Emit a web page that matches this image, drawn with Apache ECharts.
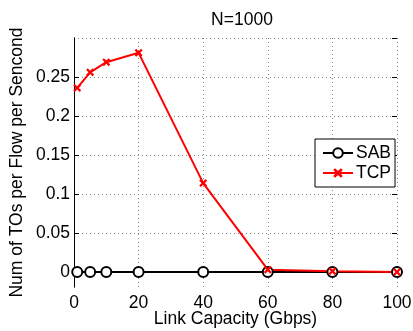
<!DOCTYPE html>
<html><head><meta charset="utf-8">
<script src="https://cdn.jsdelivr.net/npm/echarts@6/dist/echarts.min.js"></script>
<style>html,body{margin:0;padding:0;background:#fff}#c{width:413px;height:331px}</style>
</head><body><div id="c"></div>
<script>
const capacities = [1, 5, 10, 20, 40, 60, 80, 100];
const sabValues = [0, 0, 0, 0, 0, 0, 0, 0];
const tcpValues = [0.236, 0.256, 0.269, 0.281, 0.114, 0.003, 0.001, 0];
const yTickMax = 0.3;
const yTickStep = 0.05;
const xTickStep = 20;

const FONT = 'Liberation Sans';
const FS = 17.5;
const xMark = 'path://M0,2 L2,0 L5,3 L8,0 L10,2 L7,5 L10,8 L8,10 L5,7 L2,10 L0,8 L3,5 Z';
const chart = echarts.init(document.getElementById('c'));
const pairs = (ys) => capacities.map((x, i) => [x, ys[i]]);
const txt = {fontFamily: FONT, fontSize: FS, color: '#000'};
const blackLine = {show: true, lineStyle: {color: '#000', width: 1}};
const inTick = {show: true, inside: true, length: 5, lineStyle: {color: '#000'}};
const dotted = {show: true, lineStyle: {color: '#888', type: [1, 3], width: 1}};
// grid 0: full plot box (y from about -0.019 to 0.3); grid 1: tick grid (0..0.3)
chart.setOption({
  animation: false,
  textStyle: {fontFamily: FONT},
  title: {text: 'N=1000', left: 237, top: 6, textAlign: 'center',
    textStyle: Object.assign({fontWeight: 'normal'}, txt)},
  grid: [
    {left: 74, right: 16, top: 38, bottom: 44, containLabel: false, outerBoundsMode: 'none'},
    {left: 74, right: 16, top: 38, bottom: 59, containLabel: false, outerBoundsMode: 'none'}
  ],
  legend: {
    left: 315, top: 139, orient: 'vertical', itemWidth: 30, itemHeight: 12, itemGap: 2,
    padding: [5, 4, 5, 7],
    backgroundColor: '#fff', borderColor: '#000', borderWidth: 1, borderRadius: 0,
    textStyle: Object.assign({padding: [0, 0, 0, -2]}, txt),
    data: ['SAB', 'TCP']
  },
  xAxis: [{
    gridIndex: 0, type: 'value', min: 0, max: 100, interval: xTickStep,
    name: 'Link Capacity (Gbps)', nameLocation: 'middle', nameGap: 23, nameMoveOverlap: false,
    nameTextStyle: txt,
    axisLine: blackLine, axisTick: inTick,
    axisLabel: Object.assign({margin: 7}, txt),
    splitLine: dotted
  }, {
    gridIndex: 0, type: 'value', min: 0, max: 100, interval: xTickStep, position: 'top',
    axisLine: blackLine, axisTick: inTick,
    axisLabel: {show: false}, splitLine: {show: false}
  }, {
    gridIndex: 1, type: 'value', min: 0, max: 100, show: false
  }],
  yAxis: [{
    gridIndex: 0, type: 'value', min: -0.01923, max: yTickMax,
    name: 'Num of TOs per Flow per Sencond', nameLocation: 'middle', nameGap: 48, nameMoveOverlap: false,
    nameTextStyle: txt,
    axisLine: blackLine, axisTick: {show: false},
    axisLabel: {show: false}, splitLine: {show: false}
  }, {
    gridIndex: 0, type: 'value', min: -0.01923, max: yTickMax, position: 'right',
    axisLine: blackLine, axisTick: {show: false},
    axisLabel: {show: false}, splitLine: {show: false}
  }, {
    gridIndex: 1, type: 'value', min: 0, max: yTickMax, interval: yTickStep,
    axisLine: {show: false}, axisTick: inTick,
    axisLabel: Object.assign({margin: 4, showMaxLabel: false}, txt),
    splitLine: dotted
  }, {
    gridIndex: 1, type: 'value', min: 0, max: yTickMax, interval: yTickStep, position: 'right',
    axisLine: {show: false}, axisTick: inTick,
    axisLabel: {show: false}, splitLine: {show: false}
  }],
  series: [{
    name: 'SAB', type: 'line', xAxisIndex: 0, yAxisIndex: 0, data: pairs(sabValues),
    symbol: 'emptyCircle', symbolSize: 10,
    lineStyle: {color: '#000', width: 2},
    itemStyle: {color: '#000', borderColor: '#000', borderWidth: 2}
  }, {
    name: 'TCP', type: 'line', xAxisIndex: 0, yAxisIndex: 0, data: pairs(tcpValues),
    symbol: xMark, symbolSize: 8,
    lineStyle: {color: '#ff0000', width: 2},
    itemStyle: {color: '#ff0000'}
  }]
});
</script></body></html>
